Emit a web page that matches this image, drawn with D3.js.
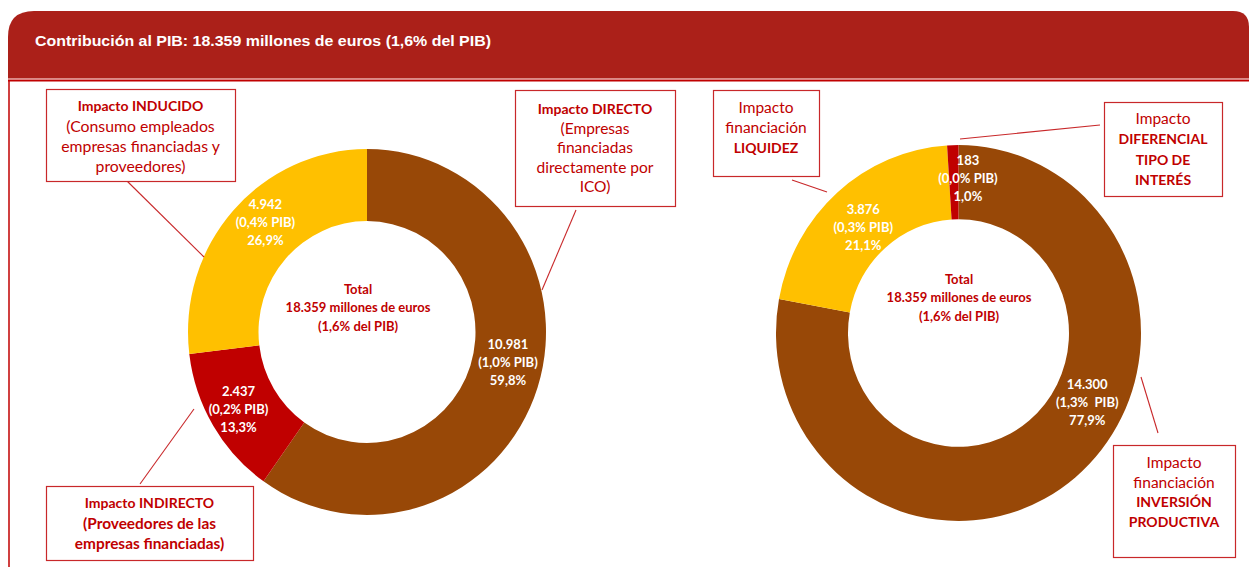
<!DOCTYPE html>
<html>
<head>
<meta charset="utf-8">
<script src="https://cdn.jsdelivr.net/npm/d3@7"></script>
<style>
  html, body { margin: 0; padding: 0; background: #ffffff; }
  svg { display: block; }
  text { white-space: pre; }
</style>
</head>
<body>
<svg id="chart" width="1249" height="567"></svg>
<script>
// ---------------- DATA ----------------
const titleText = "Contribución al PIB: 18.359 millones de euros (1,6% del PIB)";
const centerLines = ["Total", "18.359 millones de euros", "(1,6% del PIB)"];

const leftCategories = ["Impacto DIRECTO", "Impacto INDIRECTO", "Impacto INDUCIDO"];
const leftValues = [10981, 2437, 4942];
const leftPib = ["(1,0% PIB)", "(0,2% PIB)", "(0,4% PIB)"];

const rightCategories = ["Impacto financiación INVERSIÓN PRODUCTIVA", "Impacto financiación LIQUIDEZ", "Impacto DIFERENCIAL TIPO DE INTERÉS"];
const rightValues = [14300, 3876, 183];
const rightPib = ["(1,3%  PIB)", "(0,3% PIB)", "(0,0% PIB)"];

const sliceColors = ["#984807", "#C00000", "#FFC000"];
const rightSliceColors = ["#984807", "#FFC000", "#C00000"];

// ---------------- LAYOUT ----------------
const RED = "#C00000";
const locale = d3.formatLocale({ decimal: ",", thousands: ".", grouping: [3], currency: ["", "€"] });
const fmtNum = locale.format(",d");
const fmtPct = locale.format(".1%");

const donuts = [
  { cats: leftCategories, values: leftValues, pib: leftPib, colors: sliceColors,
    cx: 367, cy: 332, rOuter: 179, rInner: 108.5, sy: 1.022,
    nudges: [[4, -15], [-5, 2], [6, -13]], center: [358, 307] },
  { cats: rightCategories, values: rightValues, pib: rightPib, colors: rightSliceColors,
    cx: 958.5, cy: 333, rOuter: 182.5, rInner: 110.5, sy: 1.03,
    nudges: [[35, -47], [2, 7], [14, -4]], center: [959, 297] }
];

// each line: [text, bold, fontSize]
const boxes = [
  { x: 46, y: 89, w: 189, h: 92, first: 16, step: 20,
    lines: [["Impacto INDUCIDO", 1, 14], ["(Consumo empleados", 0, 15.8], ["empresas financiadas y", 0, 15.8], ["proveedores)", 0, 15.8]],
    link: [[127, 181], [204, 257]] },
  { x: 515, y: 90, w: 160, h: 116, first: 18, step: 19.5,
    lines: [["Impacto DIRECTO", 1, 14], ["(Empresas", 0, 15.5], ["financiadas", 0, 15.5], ["directamente por", 0, 15.5], ["ICO)", 0, 15.5]],
    link: [[576, 210], [542, 290]] },
  { x: 46, y: 486, w: 207, h: 74, first: 16, step: 20.5,
    lines: [["Impacto INDIRECTO", 1, 14], ["(Proveedores de las", 1, 15.4], ["empresas financiadas)", 1, 15.4]],
    link: [[140, 484], [194, 409]] },
  { x: 713, y: 90, w: 106, h: 86, first: 17, step: 20,
    lines: [["Impacto", 0, 15.5], ["financiación", 0, 15.5], ["LIQUIDEZ", 1, 14]],
    link: [[792, 180], [827, 192]] },
  { x: 1104, y: 102, w: 118, h: 94, first: 16, step: 20.5,
    lines: [["Impacto", 0, 15.5], ["DIFERENCIAL", 1, 14], ["TIPO DE", 1, 14], ["INTERÉS", 1, 14]],
    link: [[1100, 125], [960, 139]] },
  { x: 1113, y: 445, w: 122, h: 112, first: 17, step: 19.7,
    lines: [["Impacto", 0, 15.5], ["financiación", 0, 15.5], ["INVERSIÓN", 1, 14], ["PRODUCTIVA", 1, 14]],
    link: [[1141, 377], [1158, 433]] }
];

// ---------------- DRAW ----------------
const svg = d3.select("#chart");

// header band
svg.append("path")
  .attr("d", "M8,79 V37 Q8,11 34,11 H1233 Q1249,11 1249,27 V79 Z")
  .attr("fill", "#AB2019");
svg.append("line").attr("x1", 8).attr("x2", 1249).attr("y1", 78.5).attr("y2", 78.5)
  .attr("stroke", "#D98A86").attr("stroke-width", 1);
svg.append("line").attr("x1", 8).attr("x2", 1249).attr("y1", 80.5).attr("y2", 80.5)
  .attr("stroke", RED).attr("stroke-width", 2);
svg.append("line").attr("x1", 9).attr("x2", 9).attr("y1", 80).attr("y2", 567)
  .attr("stroke", RED).attr("stroke-width", 1.5);

svg.append("text")
  .attr("x", 35).attr("y", 46)
  .attr("font-family", "'Liberation Sans', Arial, sans-serif")
  .attr("font-weight", "bold").attr("font-size", 15)
  .attr("fill", "#ffffff")
  .attr("textLength", 456).attr("lengthAdjust", "spacingAndGlyphs")
  .text(titleText);

// donuts
donuts.forEach(d => {
  const total = d3.sum(d.values);
  const pie = d3.pie().sort(null).value(v => v)(d.values);
  const arc = d3.arc().innerRadius(d.rInner).outerRadius(d.rOuter);
  const g = svg.append("g").attr("transform", `translate(${d.cx},${d.cy})`);
  g.append("g").attr("transform", `scale(1,${d.sy})`)
    .selectAll("path").data(pie).join("path")
    .attr("d", arc)
    .attr("fill", (p, i) => d.colors[i])
    .attr("stroke", "none");

  const labelArc = d3.arc().innerRadius((d.rInner + d.rOuter) / 2).outerRadius((d.rInner + d.rOuter) / 2);
  pie.forEach((p, i) => {
    const c = labelArc.centroid(p);
    const x = c[0] + d.nudges[i][0];
    const y = c[1] * d.sy + d.nudges[i][1];
    const lines = [fmtNum(p.value), d.pib[i], fmtPct(p.value / total)];
    const t = g.append("text")
      .attr("font-family", "Lato, 'Open Sans', sans-serif")
      .attr("font-weight", "bold").attr("font-size", 13)
      .attr("fill", "#ffffff").attr("text-anchor", "middle");
    lines.forEach((s, k) => {
      t.append("tspan").attr("x", x).attr("y", y + (k - 1) * 18)
        .attr("dominant-baseline", "central").text(s);
    });
  });

  const ct = svg.append("text")
    .attr("font-family", "Lato, 'Open Sans', sans-serif")
    .attr("font-weight", "bold").attr("font-size", 13)
    .attr("fill", RED).attr("text-anchor", "middle");
  centerLines.forEach((s, k) => {
    ct.append("tspan").attr("x", d.center[0]).attr("y", d.center[1] + (k - 1) * 18.5)
      .attr("dominant-baseline", "central").text(s);
  });
});

// annotation boxes
boxes.forEach(b => {
  svg.append("line")
    .attr("x1", b.link[0][0]).attr("y1", b.link[0][1])
    .attr("x2", b.link[1][0]).attr("y2", b.link[1][1])
    .attr("stroke", "#C8282A").attr("stroke-width", 1.1);
  svg.append("rect")
    .attr("x", b.x + 0.5).attr("y", b.y + 0.5).attr("width", b.w).attr("height", b.h)
    .attr("fill", "#ffffff").attr("stroke", "#C8282A").attr("stroke-width", 1.2);
  const t = svg.append("text")
    .attr("font-family", "Lato, 'Open Sans', sans-serif")
    .attr("fill", RED).attr("text-anchor", "middle");
  b.lines.forEach((l, k) => {
    t.append("tspan").attr("x", b.x + b.w / 2).attr("y", b.y + b.first + k * b.step)
      .attr("dominant-baseline", "central")
      .attr("font-weight", l[1] ? "bold" : "normal")
      .attr("font-size", l[2])
      .text(l[0]);
  });
});
</script>
</body>
</html>
